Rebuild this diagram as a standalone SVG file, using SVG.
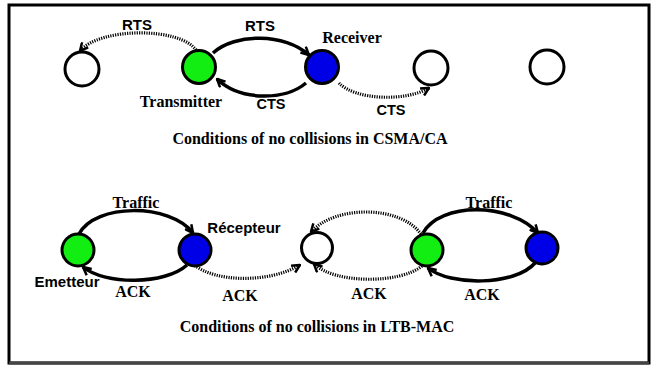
<svg xmlns="http://www.w3.org/2000/svg" width="652" height="365" viewBox="0 0 652 365">
<style>
.frame{fill:#fff;stroke:#000;stroke-width:3}
.node{stroke:#000;stroke-width:3}
.empty{fill:#fff}
.tx{fill:#12ee12}
.rx{fill:#0000e6}
.solid{fill:none;stroke:#000;stroke-width:3.5;marker-end:url(#arr)}
.dot{fill:none;stroke:#000;stroke-width:3.2;stroke-dasharray:1.2 1.2;marker-end:url(#arr)}
.sans{font-family:"Liberation Sans",Arial,sans-serif;font-weight:bold;font-size:15px;fill:#000;text-anchor:middle}
.serif{font-family:"Liberation Serif","Times New Roman",serif;font-weight:bold;font-size:16px;fill:#000;text-anchor:middle}
</style>
<defs>
<marker id="arr" viewBox="0 0 10 10" refX="9" refY="5" markerWidth="10" markerHeight="10" markerUnits="userSpaceOnUse" orient="auto">
<path d="M1,1 L9,5 L1,9" fill="none" stroke="#000" stroke-width="2.5"/>
</marker>
</defs>
<rect class="frame" x="9" y="5" width="640" height="358"/>
<line x1="9" y1="363" x2="649" y2="363" stroke="#444" stroke-width="3"/>

<g id="connectors">
<path class="dot" d="M196,50 C180,27 100,27 80,51"/>
<path class="solid" d="M213,53 C235,33 285,33 309,55"/>
<path class="solid" d="M306,83 C285,101 240,101 217,79"/>
<path class="dot" d="M339,83 C355,100 405,102 429,88"/>

<path class="solid" d="M79,234 C95,203 170,203 193,233"/>
<path class="solid" d="M187,265 C165,285 105,285 83,267"/>
<path class="dot" d="M193,264 C215,283 270,283 300,265"/>
<path class="dot" d="M421,234 C400,205 335,205 311,232"/>
<path class="dot" d="M422,266 C400,284 335,284 314,264"/>
<path class="solid" d="M423,233 C440,202 510,202 538,233"/>
<path class="solid" d="M535,263 C515,286 450,286 428,268"/>
</g>

<g id="n1"><circle class="node empty" cx="82" cy="69" r="17"/></g>
<g id="transmitter"><circle class="node tx" cx="199" cy="67" r="16.5"/><text class="serif" x="181" y="107">Transmitter</text></g>
<g id="receiver"><circle class="node rx" cx="322" cy="67" r="16.5"/><text class="serif" x="352" y="43">Receiver</text></g>
<g id="n3"><circle class="node empty" cx="431" cy="68" r="17"/></g>
<g id="n4"><circle class="node empty" cx="547" cy="67" r="17"/></g>

<g id="emetteur"><circle class="node tx" cx="78" cy="250" r="16"/><text class="sans" x="67" y="287">Emetteur</text></g>
<g id="recepteur"><circle class="node rx" cx="195" cy="250" r="16"/><text class="sans" x="244" y="233">Récepteur</text></g>
<g id="n5"><circle class="node empty" cx="317" cy="248" r="15.5"/></g>
<g id="tx2"><circle class="node tx" cx="427" cy="250" r="16"/></g>
<g id="rx2"><circle class="node rx" cx="542" cy="248" r="16"/></g>

<g id="labels">
<text class="sans" x="137" y="30">RTS</text>
<text class="sans" x="260" y="31">RTS</text>
<text class="sans" x="271" y="109" style="font-size:14.5px">CTS</text>
<text class="sans" x="391" y="115" style="font-size:14.5px">CTS</text>
<text class="serif" x="310" y="144">Conditions of no collisions in CSMA/CA</text>
<text class="serif" x="136" y="208">Traffic</text>
<text class="serif" x="489" y="208">Traffic</text>
<text class="serif" x="133" y="297">ACK</text>
<text class="serif" x="240" y="301">ACK</text>
<text class="serif" x="369" y="299">ACK</text>
<text class="serif" x="482" y="300">ACK</text>
<text class="serif" x="317" y="332">Conditions of no collisions in LTB-MAC</text>
</g>
</svg>
